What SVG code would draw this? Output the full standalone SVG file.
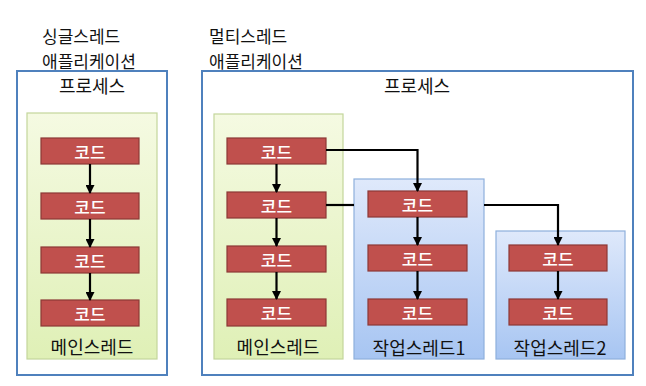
<svg xmlns="http://www.w3.org/2000/svg" width="646" height="386" viewBox="0 0 646 386">
<defs>
<linearGradient id="gGreen" x1="0" y1="0" x2="0" y2="1"><stop offset="0" stop-color="#f5fae2"/><stop offset="1" stop-color="#dff0b6"/></linearGradient>
<linearGradient id="gBlue" x1="0" y1="0" x2="0" y2="1"><stop offset="0" stop-color="#dfe9fb"/><stop offset="1" stop-color="#a7c5f2"/></linearGradient>
<marker id="arr" markerWidth="9" markerHeight="9" refX="8" refY="4.5" orient="auto" markerUnits="userSpaceOnUse"><path d="M0,0 L9,4.5 L0,9 Z" fill="#000"/></marker>
<style>
.t{font-family:"Noto Sans CJK KR","Liberation Sans",sans-serif;font-size:18px;fill:#111;dominant-baseline:central}
.h{font-size:17px}
.m{text-anchor:middle}
.proc{fill:#fff;stroke:#4f81bd;stroke-width:2}
.main{fill:url(#gGreen);stroke:#c3d69b;stroke-width:1.2}
.work{fill:url(#gBlue);stroke:#8eb0dc;stroke-width:1.2}
.code rect{fill:#c0504d;stroke:#8c3836;stroke-width:1.2}
.code text{font-family:"Noto Sans CJK KR","Liberation Sans",sans-serif;font-size:17px;font-weight:500;fill:#fff;text-anchor:middle;dominant-baseline:central}
.c{fill:none;stroke:#000;stroke-width:2.2}
</style>
</defs>
<text class="t h" x="42" y="35">싱글스레드</text>
<text class="t h" x="42" y="60">애플리케이션</text>
<text class="t h" x="209" y="35">멀티스레드</text>
<text class="t h" x="209" y="60">애플리케이션</text>
<g id="process1"><rect class="proc" x="17" y="71" width="150" height="304"/><text class="t m" x="92" y="85">프로세스</text></g>
<g id="process2"><rect class="proc" x="202" y="71" width="431" height="304"/><text class="t m" x="417" y="85">프로세스</text></g>
<g id="main1"><rect class="main" x="27" y="113" width="130" height="246"/><text class="t m" x="92" y="346">메인스레드</text></g>
<g id="main2"><rect class="main" x="214" y="114" width="129" height="245"/><text class="t m" x="278" y="346">메인스레드</text></g>
<g id="work1"><rect class="work" x="354" y="179" width="130" height="180"/><text class="t m" x="419" y="347">작업스레드1</text></g>
<g id="work2"><rect class="work" x="496" y="231" width="129" height="128"/><text class="t m" x="560" y="347">작업스레드2</text></g>
<g id="s1c1" class="code"><rect x="41" y="138" width="98" height="26"/><text x="90" y="151">코드</text></g>
<g id="s1c2" class="code"><rect x="41" y="193" width="98" height="26"/><text x="90" y="206">코드</text></g>
<g id="s1c3" class="code"><rect x="41" y="247" width="98" height="26"/><text x="90" y="260">코드</text></g>
<g id="s1c4" class="code"><rect x="41" y="300" width="98" height="26"/><text x="90" y="313">코드</text></g>
<g id="m2c1" class="code"><rect x="227" y="138" width="99" height="26"/><text x="276.5" y="151">코드</text></g>
<g id="m2c2" class="code"><rect x="227" y="192" width="99" height="26"/><text x="276.5" y="205">코드</text></g>
<g id="m2c3" class="code"><rect x="227" y="246" width="99" height="26"/><text x="276.5" y="259">코드</text></g>
<g id="m2c4" class="code"><rect x="227" y="299" width="99" height="27"/><text x="276.5" y="312.5">코드</text></g>
<g id="w1c1" class="code"><rect x="368" y="191" width="99" height="26"/><text x="417.5" y="204">코드</text></g>
<g id="w1c2" class="code"><rect x="368" y="245" width="99" height="26"/><text x="417.5" y="258">코드</text></g>
<g id="w1c3" class="code"><rect x="368" y="299" width="99" height="26"/><text x="417.5" y="312">코드</text></g>
<g id="w2c1" class="code"><rect x="509" y="245" width="98" height="26"/><text x="558" y="258">코드</text></g>
<g id="w2c2" class="code"><rect x="509" y="299" width="98" height="26"/><text x="558" y="312">코드</text></g>
<g id="connectors">
<path class="c" d="M90,164 V193" marker-end="url(#arr)"/>
<path class="c" d="M90,219 V247" marker-end="url(#arr)"/>
<path class="c" d="M90,273 V300" marker-end="url(#arr)"/>
<path class="c" d="M276.5,164 V192" marker-end="url(#arr)"/>
<path class="c" d="M276.5,218 V246" marker-end="url(#arr)"/>
<path class="c" d="M276.5,272 V299" marker-end="url(#arr)"/>
<path class="c" d="M326,150 H417.5 V191" marker-end="url(#arr)"/>
<path class="c" d="M326,205 H354"/>
<path class="c" d="M484,205 H558 V245" marker-end="url(#arr)"/>
<path class="c" d="M417.5,217 V245" marker-end="url(#arr)"/>
<path class="c" d="M417.5,271 V299" marker-end="url(#arr)"/>
<path class="c" d="M558,271 V299" marker-end="url(#arr)"/>
</g>
</svg>
